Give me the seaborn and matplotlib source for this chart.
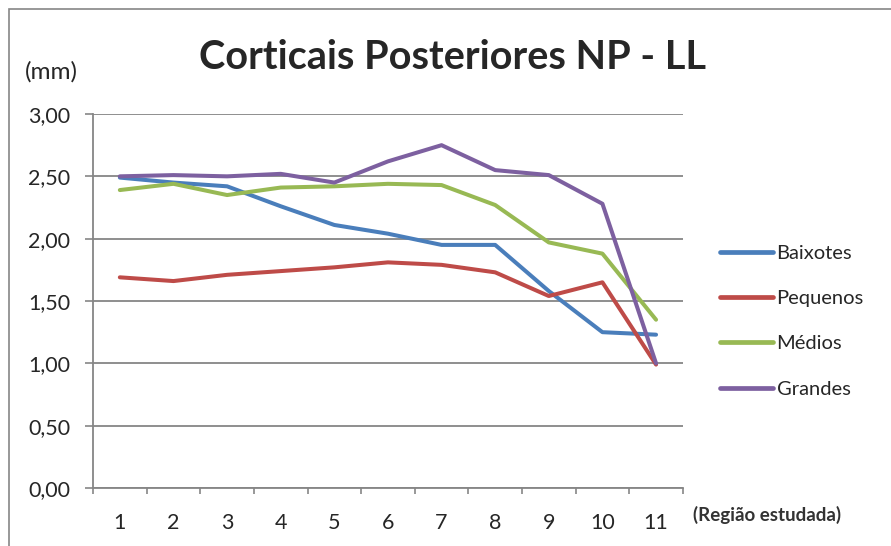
import pandas as pd
import seaborn as sns
import matplotlib.pyplot as plt
from matplotlib.patches import Rectangle

regioes = list(range(1, 12))
baixotes = [2.49, 2.45, 2.42, 2.26, 2.11, 2.04, 1.95, 1.95, 1.58, 1.25, 1.23]
pequenos = [1.69, 1.66, 1.71, 1.74, 1.77, 1.81, 1.79, 1.73, 1.54, 1.65, 0.99]
medios = [2.39, 2.44, 2.35, 2.41, 2.42, 2.44, 2.43, 2.27, 1.97, 1.88, 1.35]
grandes = [2.50, 2.51, 2.50, 2.52, 2.45, 2.62, 2.75, 2.55, 2.51, 2.28, 1.00]
series = ["Baixotes", "Pequenos", "Médios", "Grandes"]
cores = ["#4A7EBB", "#BE4B48", "#98B954", "#7D60A0"]

df = pd.DataFrame({"regiao": regioes * 4,
                   "valor": baixotes + pequenos + medios + grandes,
                   "serie": sum([[s] * 11 for s in series], [])})

sns.set_theme(style="white")
plt.rcParams["font.family"] = ["Lato", "DejaVu Sans"]

fig = plt.figure(figsize=(8.91, 5.46), dpi=100)
ax = fig.add_axes([0.1044, 0.1062, 0.662, 0.685])

sns.lineplot(df, x="regiao", y="valor", hue="serie", palette=cores,
             linewidth=2.9, ax=ax)

ax.set_xlim(0.5, 11.5)
ax.set_ylim(0, 3)
ax.set_yticks([0, 0.5, 1, 1.5, 2, 2.5, 3])
ax.set_yticklabels([f"{v:.2f}".replace(".", ",") for v in ax.get_yticks()])
ax.set_xticks(regioes)
ax.set_xticks([x + 0.5 for x in range(0, 12)], minor=True)
ax.tick_params(axis="x", which="major", length=0, pad=18, labelsize=15.5)
ax.tick_params(axis="x", which="minor", length=4.5, color="#868686", width=1.2, direction="out", bottom=True)
ax.tick_params(axis="y", length=5.5, color="#868686", width=1.2, direction="out", left=True, labelsize=15.5, pad=11)
ax.yaxis.grid(True, color="#868686", linewidth=1.3)
ax.set_axisbelow(True)
for s in ["top", "right"]:
    ax.spines[s].set_visible(False)
for s in ["left", "bottom"]:
    ax.spines[s].set_color("#868686")
    ax.spines[s].set_linewidth(1.3)
ax.set_xlabel("")
ax.set_ylabel("")

leg = ax.legend(loc="upper left", bbox_to_anchor=(0.788, 0.585), bbox_transform=fig.transFigure,
                frameon=False, fontsize=14.5, handlelength=2.6, labelspacing=1.4, handletextpad=0.2)
for line in leg.get_lines():
    line.set_linewidth(3.4)

fig.text(0.508, 0.895, "Corticais Posteriores NP - LL", ha="center", va="center",
         fontsize=28.5, fontweight="bold")
fig.text(0.028, 0.868, "(mm)", ha="left", va="center", fontsize=17.5)
fig.text(0.778, 0.0568, "(Região estudada)", ha="left", va="center", fontsize=13.5,
         fontweight="bold", color="#333333")

# moldura: só as bordas de cima e da esquerda aparecem no recorte
fig.patches.append(Rectangle((0.0101, -0.1), 1.2, 1.0835, transform=fig.transFigure,
                             fill=False, edgecolor="#868686", linewidth=1.2))

fig.savefig("out.png", dpi=100)
